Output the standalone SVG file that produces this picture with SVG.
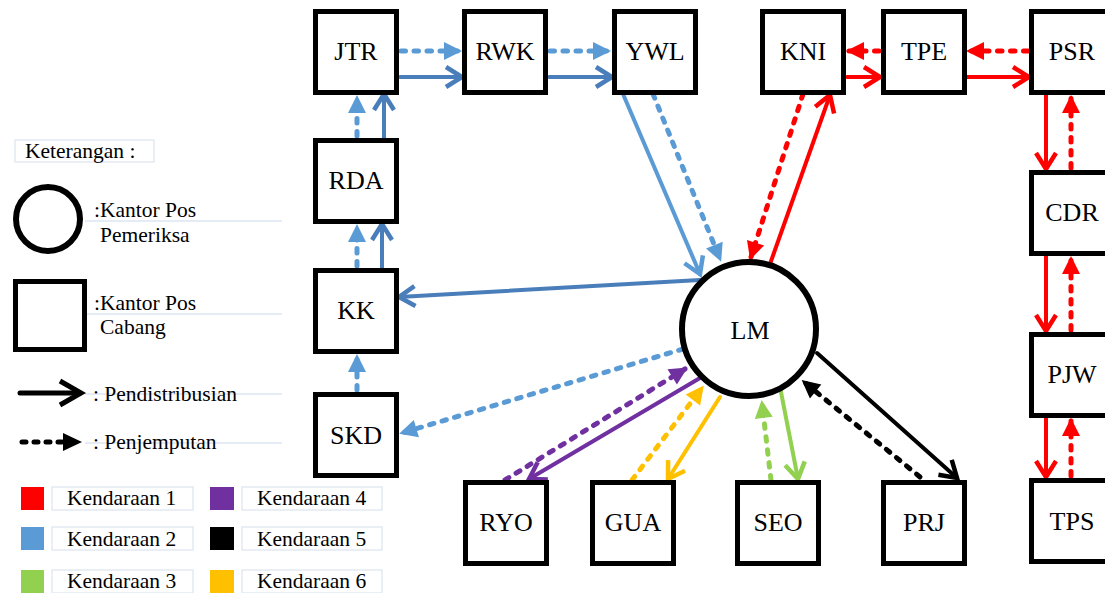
<svg xmlns="http://www.w3.org/2000/svg" width="1105" height="593" viewBox="0 0 1105 593">
<style>
.box{fill:#fff;stroke:#000;stroke-width:5}
.lbl{font-family:'Liberation Serif','Tinos','DejaVu Serif',serif;font-size:26px;fill:#000;text-anchor:middle}
.lg{font-family:'Liberation Serif','Tinos','DejaVu Serif',serif;font-size:21.5px;fill:#000}
.thin{stroke:#dde6f2;stroke-width:1.5;fill:none}
.lbox{fill:#fff;stroke:#e3eaf4;stroke-width:1.5}
.s{fill:none;stroke-width:4;stroke-linecap:round}
.d{fill:none;stroke-width:5;stroke-linecap:round;stroke-dasharray:4.5 8.5}
</style>
<defs>
<marker id="cR" markerUnits="userSpaceOnUse" viewBox="-20 -14 26 28" markerWidth="26" markerHeight="28" refX="0" refY="0" orient="auto" overflow="visible"><path d="M-16,-10 L0,0 L-16,10" fill="none" stroke="#ff0000" stroke-width="4.5"/></marker>
<marker id="cB" markerUnits="userSpaceOnUse" viewBox="-20 -14 26 28" markerWidth="26" markerHeight="28" refX="0" refY="0" orient="auto" overflow="visible"><path d="M-16,-10 L0,0 L-16,10" fill="none" stroke="#5b9bd5" stroke-width="4.5"/></marker>
<marker id="cD" markerUnits="userSpaceOnUse" viewBox="-20 -14 26 28" markerWidth="26" markerHeight="28" refX="0" refY="0" orient="auto" overflow="visible"><path d="M-16,-10 L0,0 L-16,10" fill="none" stroke="#4a7ebb" stroke-width="4.5"/></marker>
<marker id="cP" markerUnits="userSpaceOnUse" viewBox="-20 -14 26 28" markerWidth="26" markerHeight="28" refX="0" refY="0" orient="auto" overflow="visible"><path d="M-16,-10 L0,0 L-16,10" fill="none" stroke="#7030a0" stroke-width="4.5"/></marker>
<marker id="cY" markerUnits="userSpaceOnUse" viewBox="-20 -14 26 28" markerWidth="26" markerHeight="28" refX="0" refY="0" orient="auto" overflow="visible"><path d="M-16,-10 L0,0 L-16,10" fill="none" stroke="#ffc000" stroke-width="4.5"/></marker>
<marker id="cG" markerUnits="userSpaceOnUse" viewBox="-20 -14 26 28" markerWidth="26" markerHeight="28" refX="0" refY="0" orient="auto" overflow="visible"><path d="M-16,-10 L0,0 L-16,10" fill="none" stroke="#92d050" stroke-width="4.5"/></marker>
<marker id="cK" markerUnits="userSpaceOnUse" viewBox="-20 -14 26 28" markerWidth="26" markerHeight="28" refX="0" refY="0" orient="auto" overflow="visible"><path d="M-16,-10 L0,0 L-16,10" fill="none" stroke="#000" stroke-width="4.5"/></marker>
<marker id="tR" markerUnits="userSpaceOnUse" viewBox="-18 -11 24 22" markerWidth="24" markerHeight="22" refX="0" refY="0" orient="auto" overflow="visible"><path d="M-15,-9 L3,0 L-15,9 Z" fill="#ff0000"/></marker>
<marker id="tB" markerUnits="userSpaceOnUse" viewBox="-18 -11 24 22" markerWidth="24" markerHeight="22" refX="0" refY="0" orient="auto" overflow="visible"><path d="M-15,-9 L3,0 L-15,9 Z" fill="#5b9bd5"/></marker>
<marker id="tP" markerUnits="userSpaceOnUse" viewBox="-18 -11 24 22" markerWidth="24" markerHeight="22" refX="0" refY="0" orient="auto" overflow="visible"><path d="M-15,-9 L3,0 L-15,9 Z" fill="#7030a0"/></marker>
<marker id="tY" markerUnits="userSpaceOnUse" viewBox="-18 -11 24 22" markerWidth="24" markerHeight="22" refX="0" refY="0" orient="auto" overflow="visible"><path d="M-15,-9 L3,0 L-15,9 Z" fill="#ffc000"/></marker>
<marker id="tG" markerUnits="userSpaceOnUse" viewBox="-18 -11 24 22" markerWidth="24" markerHeight="22" refX="0" refY="0" orient="auto" overflow="visible"><path d="M-15,-9 L3,0 L-15,9 Z" fill="#92d050"/></marker>
<marker id="tK" markerUnits="userSpaceOnUse" viewBox="-18 -11 24 22" markerWidth="24" markerHeight="22" refX="0" refY="0" orient="auto" overflow="visible"><path d="M-15,-9 L3,0 L-15,9 Z" fill="#000"/></marker>
</defs>

<g id="legend">
<rect class="lbox" x="15" y="140" width="139" height="22"/>
<text class="lg" x="25" y="158">Keterangan :</text>
<line class="thin" x1="85" y1="221" x2="282" y2="221"/>
<circle cx="48" cy="219" r="32" fill="#fff" stroke="#000" stroke-width="6"/>
<text class="lg" x="94" y="217">:Kantor Pos</text>
<text class="lg" x="100" y="242">Pemeriksa</text>
<line class="thin" x1="85" y1="314" x2="282" y2="314"/>
<rect x="15.5" y="281.5" width="69" height="68" fill="#fff" stroke="#000" stroke-width="5"/>
<text class="lg" x="94" y="310">:Kantor Pos</text>
<text class="lg" x="100" y="334">Cabang</text>
<line class="thin" x1="85" y1="394" x2="282" y2="394"/>
<line x1="20" y1="393" x2="80" y2="393" stroke="#000" stroke-width="5" stroke-linecap="round"/>
<path d="M60,381 L81,393 L60,405" fill="none" stroke="#000" stroke-width="5"/>
<text class="lg" x="93" y="401">: Pendistribusian</text>
<line class="thin" x1="85" y1="443" x2="282" y2="443"/>
<line x1="22" y1="442" x2="64" y2="442" stroke="#000" stroke-width="5" stroke-linecap="round" stroke-dasharray="4 8"/>
<path d="M63,433 L82,442 L63,451 Z" fill="#000"/>
<text class="lg" x="93" y="449">: Penjemputan</text>
<rect x="21" y="487" width="23" height="23" fill="#ff0000"/>
<rect class="lbox" x="52" y="487" width="141" height="23"/>
<text class="lg" x="67" y="505">Kendaraan 1</text>
<rect x="21" y="527" width="23" height="23" fill="#5b9bd5"/>
<rect class="lbox" x="52" y="527" width="141" height="23"/>
<text class="lg" x="67" y="546">Kendaraan 2</text>
<rect x="21" y="570" width="23" height="23" fill="#92d050"/>
<rect class="lbox" x="52" y="570" width="141" height="23"/>
<text class="lg" x="67" y="588">Kendaraan 3</text>
<rect x="210" y="487" width="24" height="23" fill="#7030a0"/>
<rect class="lbox" x="242" y="487" width="140" height="23"/>
<text class="lg" x="257" y="505">Kendaraan 4</text>
<rect x="210" y="527" width="24" height="23" fill="#000"/>
<rect class="lbox" x="242" y="527" width="140" height="23"/>
<text class="lg" x="257" y="546">Kendaraan 5</text>
<rect x="210" y="570" width="24" height="23" fill="#ffc000"/>
<rect class="lbox" x="242" y="570" width="140" height="23"/>
<text class="lg" x="257" y="588">Kendaraan 6</text>
</g>

<g id="connectors">
<line class="d" stroke="#5b9bd5" x1="401" y1="51" x2="459" y2="51" marker-end="url(#tB)"/>
<line class="d" stroke="#5b9bd5" x1="550" y1="51" x2="608" y2="51" marker-end="url(#tB)"/>
<line class="d" stroke="#5b9bd5" x1="357" y1="136" x2="357" y2="98" marker-end="url(#tB)"/>
<line class="d" stroke="#5b9bd5" x1="357" y1="266" x2="357" y2="227" marker-end="url(#tB)"/>
<line class="d" stroke="#5b9bd5" x1="357" y1="390" x2="357" y2="357" marker-end="url(#tB)"/>
<line class="d" stroke="#5b9bd5" x1="653" y1="94" x2="720" y2="259" marker-end="url(#tB)"/>
<line class="d" stroke="#5b9bd5" x1="683" y1="349" x2="402" y2="433" marker-end="url(#tB)"/>
<line class="s" stroke="#4a7ebb" x1="400" y1="77" x2="462" y2="77" marker-end="url(#cD)"/>
<line class="s" stroke="#4a7ebb" x1="549" y1="77" x2="612" y2="77" marker-end="url(#cD)"/>
<line class="s" stroke="#4a7ebb" x1="384" y1="138" x2="384" y2="94" marker-end="url(#cD)"/>
<line class="s" stroke="#4a7ebb" x1="382" y1="268" x2="382" y2="224" marker-end="url(#cD)"/>
<line class="s" stroke="#4a7ebb" x1="700" y1="280" x2="399" y2="297" marker-end="url(#cD)"/>
<line class="s" stroke="#5b9bd5" x1="623" y1="94" x2="700" y2="274" marker-end="url(#cB)"/>
<line class="d" stroke="#ff0000" x1="879" y1="51" x2="849" y2="51" marker-end="url(#tR)"/>
<line class="d" stroke="#ff0000" x1="1028" y1="51" x2="969" y2="51" marker-end="url(#tR)"/>
<line class="s" stroke="#ff0000" x1="847" y1="77" x2="880" y2="77" marker-end="url(#cR)"/>
<line class="s" stroke="#ff0000" x1="967" y1="77" x2="1029" y2="77" marker-end="url(#cR)"/>
<line class="d" stroke="#ff0000" x1="803" y1="94" x2="751" y2="257" marker-end="url(#tR)"/>
<line class="s" stroke="#ff0000" x1="770" y1="264" x2="830" y2="95" marker-end="url(#cR)"/>
<line class="s" stroke="#ff0000" x1="1046" y1="95" x2="1046" y2="169" marker-end="url(#cR)"/>
<line class="d" stroke="#ff0000" x1="1071" y1="168" x2="1071" y2="98" marker-end="url(#tR)"/>
<line class="s" stroke="#ff0000" x1="1046" y1="256" x2="1046" y2="331" marker-end="url(#cR)"/>
<line class="d" stroke="#ff0000" x1="1071" y1="330" x2="1071" y2="259" marker-end="url(#tR)"/>
<line class="s" stroke="#ff0000" x1="1046" y1="418" x2="1046" y2="477" marker-end="url(#cR)"/>
<line class="d" stroke="#ff0000" x1="1071" y1="476" x2="1071" y2="421" marker-end="url(#tR)"/>
<line class="d" stroke="#7030a0" x1="505" y1="480" x2="685" y2="369" marker-end="url(#tP)"/>
<line class="s" stroke="#7030a0" x1="700" y1="378" x2="529" y2="479" marker-end="url(#cP)"/>
<line class="d" stroke="#ffc000" x1="632" y1="480" x2="702" y2="388" marker-end="url(#tY)"/>
<line class="s" stroke="#ffc000" x1="720" y1="397" x2="668" y2="479" marker-end="url(#cY)"/>
<line class="d" stroke="#92d050" x1="771" y1="480" x2="762" y2="403" marker-end="url(#tG)"/>
<line class="s" stroke="#92d050" x1="780" y1="387" x2="798" y2="479" marker-end="url(#cG)"/>
<line class="s" stroke="#000" x1="817" y1="353" x2="957" y2="478" marker-end="url(#cK)"/>
<line class="d" stroke="#000" x1="920" y1="477" x2="804" y2="382" marker-end="url(#tK)"/>
</g>

<g id="LM"><circle cx="749" cy="329" r="67" fill="#fff" stroke="#000" stroke-width="6"/><text class="lbl" x="750" y="339">LM</text></g>
<g id="JTR"><rect class="box" x="315.5" y="11.5" width="81" height="81"/><text class="lbl" x="356" y="60">JTR</text></g>
<g id="RWK"><rect class="box" x="464.5" y="11.5" width="81" height="81"/><text class="lbl" x="505" y="60">RWK</text></g>
<g id="YWL"><rect class="box" x="614.5" y="11.5" width="81" height="81"/><text class="lbl" x="655" y="60">YWL</text></g>
<g id="KNI"><rect class="box" x="762.5" y="11.5" width="81" height="81"/><text class="lbl" x="803" y="60">KNI</text></g>
<g id="TPE"><rect class="box" x="883.5" y="11.5" width="81" height="81"/><text class="lbl" x="924" y="60">TPE</text></g>
<g id="PSR"><rect class="box" x="1031.5" y="11.5" width="81" height="81"/><text class="lbl" x="1072" y="60">PSR</text></g>
<g id="RDA"><rect class="box" x="315.5" y="140.5" width="81" height="81"/><text class="lbl" x="356" y="189">RDA</text></g>
<g id="KK"><rect class="box" x="315.5" y="270.5" width="81" height="81"/><text class="lbl" x="356" y="319">KK</text></g>
<g id="SKD"><rect class="box" x="315.5" y="394.5" width="81" height="81"/><text class="lbl" x="356" y="444">SKD</text></g>
<g id="CDR"><rect class="box" x="1031.5" y="172.5" width="81" height="81"/><text class="lbl" x="1072" y="221">CDR</text></g>
<g id="PJW"><rect class="box" x="1031.5" y="334.5" width="81" height="81"/><text class="lbl" x="1072" y="383">PJW</text></g>
<g id="TPS"><rect class="box" x="1031.5" y="480.5" width="81" height="81"/><text class="lbl" x="1072" y="530">TPS</text></g>
<g id="RYO"><rect class="box" x="465.5" y="482.5" width="81" height="81"/><text class="lbl" x="506" y="531">RYO</text></g>
<g id="GUA"><rect class="box" x="592.5" y="482.5" width="81" height="81"/><text class="lbl" x="633" y="531">GUA</text></g>
<g id="SEO"><rect class="box" x="737.5" y="482.5" width="81" height="81"/><text class="lbl" x="778" y="531">SEO</text></g>
<g id="PRJ"><rect class="box" x="883.5" y="482.5" width="81" height="81"/><text class="lbl" x="924" y="531">PRJ</text></g>
</svg>
